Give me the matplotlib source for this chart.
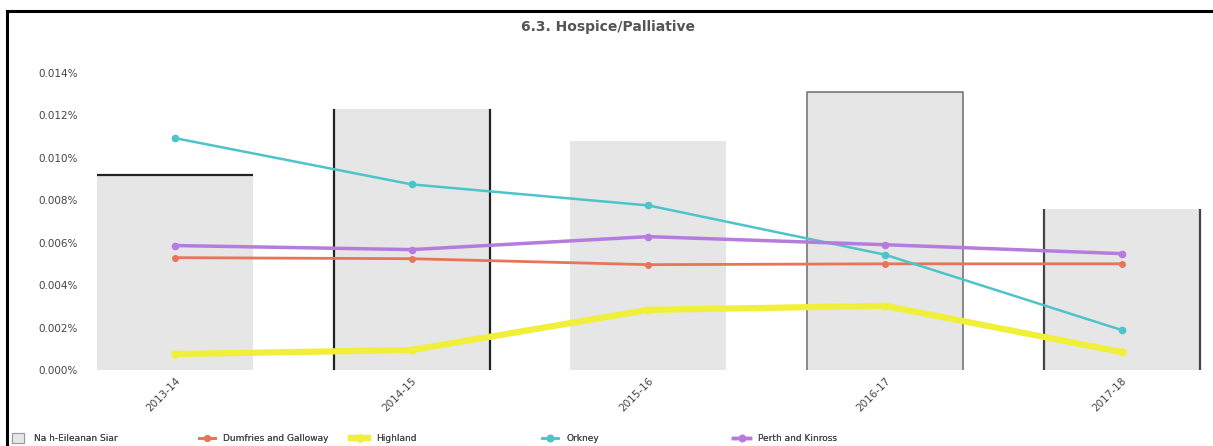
import matplotlib.pyplot as plt
from matplotlib.lines import Line2D
from matplotlib.patches import Patch
from matplotlib.ticker import FuncFormatter

# values in percent
years = ["2013-14", "2014-15", "2015-16", "2016-17", "2017-18"]
eilean_siar = [0.00918, 0.0123, 0.0108, 0.0131, 0.0076]
dumfries = [0.00530, 0.00525, 0.00497, 0.00501, 0.00501]
highland = [0.00076, 0.00095, 0.00284, 0.00303, 0.00085]
orkney = [0.01093, 0.00875, 0.00776, 0.00544, 0.00189]
perth = [0.00587, 0.00568, 0.00629, 0.00591, 0.00549]

x = list(range(len(years)))

fig = plt.figure(figsize=(12.13, 4.46), dpi=100)
ax = fig.add_axes([0.078, 0.170, 0.915, 0.695])

bars = ax.bar(x, eilean_siar, width=0.66, color="#e6e6e6", edgecolor="none",
              label="Na h-Eileanan Siar", zorder=1)

# screenshot left odd edge strokes on some bars
b = bars[0]
ax.hlines(b.get_height(), b.get_x(), b.get_x() + b.get_width(), color="#222222", lw=1.6, zorder=2)
for i, col in [(1, "#222222"), (4, "#444444")]:
    b = bars[i]
    ax.vlines([b.get_x(), b.get_x() + b.get_width()], 0, b.get_height(), color=col, lw=1.6, zorder=2)
b = bars[3]
ax.plot([b.get_x(), b.get_x(), b.get_x() + b.get_width(), b.get_x() + b.get_width()],
        [0, b.get_height(), b.get_height(), 0], color="#777777", lw=1.2, zorder=2)

l1, = ax.plot(x, dumfries, color="#e8745a", lw=2, marker="o", ms=4, label="Dumfries and Galloway", zorder=3)
l2, = ax.plot(x, highland, color="#f0f03a", lw=4.5, marker="o", ms=5, label="Highland", zorder=3)
l3, = ax.plot(x, orkney, color="#4ec3c9", lw=1.8, marker="o", ms=4.5, label="Orkney", zorder=3)
l4, = ax.plot(x, perth, color="#b57bdd", lw=2.5, marker="o", ms=4.5, label="Perth and Kinross", zorder=3)

ax.set_xlim(-0.34, 4.35)
ax.set_ylim(0, 0.0146)
ax.set_yticks([0, 0.002, 0.004, 0.006, 0.008, 0.010, 0.012, 0.014])
ax.yaxis.set_major_formatter(FuncFormatter(lambda v, p: f"{v:.3f}%"))
ax.set_xticks(x)
ax.set_xticklabels(years, rotation=45, ha="right", va="top", rotation_mode="anchor")
ax.tick_params(axis="both", length=0, labelsize=7.5, colors="#444444")
ax.tick_params(axis="y", pad=12)
ax.tick_params(axis="x", pad=4)
for s in ax.spines.values():
    s.set_visible(False)

fig.text(0.501, 0.94, "6.3. Hospice/Palliative", ha="center", va="center",
         fontsize=10, color="#555555", fontweight="bold")

# legend entries are spaced unevenly in the reference, one legend each
bar_handle = Patch(facecolor="#e6e6e6", edgecolor="#999999", lw=0.8, label="Na h-Eileanan Siar")
handles = [bar_handle, l1, l2, l3, l4]
legend_x = [0.003, 0.157, 0.283, 0.440, 0.598]
for h, lx in zip(handles, legend_x):
    is_box = h is bar_handle
    leg = fig.legend(handles=[h], loc="lower left", bbox_to_anchor=(lx, -0.012), frameon=False,
                     fontsize=6.5, handlelength=1.3 if is_box else 1.8,
                     handleheight=1.4 if is_box else 0.7, handletextpad=1.2 if is_box else 0.9,
                     labelcolor="#444444")
    fig.add_artist(leg)

# border from the screenshot
fig.add_artist(Line2D([0.0058, 1.0], [0.975, 0.975], color="black", lw=2.2, transform=fig.transFigure))
fig.add_artist(Line2D([0.0058, 0.0058], [0.975, 0.0], color="black", lw=2.2, transform=fig.transFigure))

fig.savefig("out.png", dpi=100)
